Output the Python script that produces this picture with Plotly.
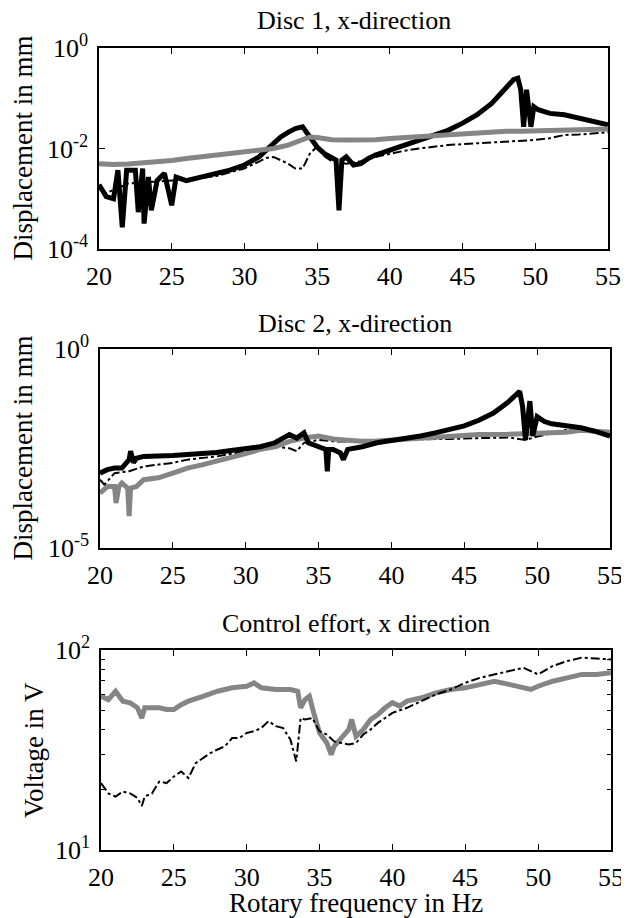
import plotly.graph_objects as go

# ---- Disc 1, x-direction ----
d1_black_hz = [20.0, 20.5, 21.0, 21.3, 21.6, 21.9, 22.5, 22.7, 23.0, 23.1, 23.4, 23.6,
               24.0, 24.5, 25.0, 25.3, 26.0, 27.0, 28.0, 29.0, 30.0, 31.0, 31.5, 32.0,
               32.5, 33.0, 33.5, 34.0, 34.3, 34.6, 35.0, 35.5, 36.0, 36.3, 36.5, 36.7,
               37.0, 37.5, 38.0, 38.5, 39.0, 40.0, 41.0, 42.0, 43.0, 44.0, 45.0, 46.0,
               47.0, 48.0, 48.5, 48.8, 49.0, 49.2, 49.4, 49.7, 49.9, 50.2, 51.0, 52.0,
               53.0, 54.0, 55.0]
d1_black = [1.9e-3, 1.1e-3, 1.0e-3, 3.7e-3, 2.7e-4, 3.7e-3, 3.7e-3, 5.4e-4, 4.0e-3, 3.2e-4,
            2.7e-3, 5.9e-4, 2.3e-3, 3.2e-3, 7.4e-4, 2.7e-3, 2.3e-3, 2.7e-3, 3.0e-3, 3.7e-3,
            4.7e-3, 6.8e-3, 9.3e-3, 1.26e-2, 1.7e-2, 2.1e-2, 2.5e-2, 2.7e-2, 2.0e-2, 1.5e-2,
            1.07e-2, 7.9e-3, 6.8e-3, 5.9e-3, 5.9e-4, 5.9e-3, 6.8e-3, 4.7e-3, 5.0e-3, 6.3e-3,
            7.4e-3, 9.3e-3, 1.17e-2, 1.48e-2, 1.86e-2, 2.3e-2, 3.2e-2, 4.7e-2, 7.9e-2, 0.158,
            0.234, 0.251, 0.148, 2.7e-2, 0.148, 2.7e-2, 6.8e-2, 5.9e-2, 5.0e-2, 4.7e-2,
            4.0e-2, 3.4e-2, 2.95e-2]

d1_gray_hz = [20, 21, 22, 23, 24, 25, 26, 27, 28, 29, 30, 31, 32, 33, 34, 34.5, 35, 36,
              37, 38, 39, 40, 41, 42, 43, 44, 45, 46, 47, 48, 49, 50, 51, 52, 53, 54, 55]
d1_gray = [5.0e-3, 4.8e-3, 4.9e-3, 5.1e-3, 5.4e-3, 5.8e-3, 6.3e-3, 6.8e-3, 7.4e-3, 8.0e-3,
           8.5e-3, 9.1e-3, 1.0e-2, 1.17e-2, 1.48e-2, 1.7e-2, 1.65e-2, 1.5e-2, 1.48e-2,
           1.48e-2, 1.5e-2, 1.58e-2, 1.65e-2, 1.78e-2, 1.85e-2, 1.95e-2, 2.0e-2, 2.1e-2,
           2.15e-2, 2.2e-2, 2.2e-2, 2.25e-2, 2.3e-2, 2.35e-2, 2.4e-2, 2.4e-2, 2.45e-2]

d1_dash_hz = [20, 20.5, 21, 22, 24, 26, 28, 30, 31, 31.5, 32, 32.5, 33, 33.5, 34, 34.5,
              35, 35.5, 36, 37, 38, 39, 40, 41, 42, 43, 44, 45, 46, 47, 48, 49, 50, 51,
              52, 53, 54, 55]
d1_dash = [1.6e-3, 1.3e-3, 1.5e-3, 2.0e-3, 2.2e-3, 2.4e-3, 2.8e-3, 4.0e-3, 5.5e-3, 6.5e-3,
           6.8e-3, 5.8e-3, 5.0e-3, 4.0e-3, 4.0e-3, 7.9e-3, 1.1e-2, 7.0e-3, 5.6e-3, 5.0e-3,
           5.6e-3, 6.8e-3, 7.9e-3, 9.0e-3, 1.0e-2, 1.1e-2, 1.17e-2, 1.22e-2, 1.26e-2, 1.3e-2,
           1.35e-2, 1.4e-2, 1.48e-2, 1.6e-2, 1.86e-2, 1.9e-2, 2.0e-2, 2.1e-2]

# ---- Disc 2, x-direction ----
d2_black_hz = [20, 20.5, 21, 21.5, 22, 22.1, 22.3, 22.5, 23, 24, 25, 26, 27, 28, 29, 30,
               31, 32, 32.5, 33, 33.5, 34, 34.3, 35, 35.5, 35.6, 35.7, 36, 36.5, 36.7,
               36.9, 37, 38, 39, 40, 41, 42, 43, 44, 45, 46, 47, 48, 48.5, 48.8, 49.0,
               49.2, 49.5, 49.7, 50, 50.5, 51, 52, 53, 54, 55]
d2_black = [7.6e-4, 9.3e-4, 1.02e-3, 1.02e-3, 1.66e-3, 2.7e-3, 1.4e-3, 1.8e-3, 2.0e-3, 2.0e-3,
            2.1e-3, 2.24e-3, 2.35e-3, 2.5e-3, 2.8e-3, 3.2e-3, 3.5e-3, 4.4e-3, 5.8e-3, 7.1e-3,
            5.8e-3, 7.8e-3, 4.4e-3, 3.5e-3, 3.0e-3, 8.5e-4, 3.0e-3, 3.0e-3, 2.45e-3, 1.66e-3,
            2.8e-3, 3.0e-3, 3.5e-3, 4.4e-3, 5.0e-3, 5.6e-3, 6.5e-3, 7.8e-3, 9.3e-3, 1.17e-2,
            1.62e-2, 2.45e-2, 4.6e-2, 7.1e-2, 8.7e-2, 3.6e-2, 5.2e-3, 4.9e-2, 6.5e-3, 2.0e-2,
            1.5e-2, 1.32e-2, 1.15e-2, 1.05e-2, 8.5e-3, 6.5e-3]

d2_gray_hz = [20, 20.5, 21, 21.1, 21.3, 21.5, 21.9, 22.0, 22.1, 22.5, 23, 24, 25, 26, 27,
              28, 29, 30, 31, 32, 33, 34, 35, 36, 37, 38, 39, 40, 42, 44, 46, 48, 50, 52,
              53, 54, 55]
d2_gray = [2.4e-4, 3.5e-4, 3.5e-4, 1.35e-4, 3.5e-4, 4.3e-4, 3.2e-4, 6.3e-5, 3.2e-4, 3.5e-4,
           5.2e-4, 5.8e-4, 7.6e-4, 1.02e-3, 1.23e-3, 1.5e-3, 1.8e-3, 2.35e-3, 3.0e-3, 3.5e-3,
           4.8e-3, 5.8e-3, 6.5e-3, 5.5e-3, 5.1e-3, 4.8e-3, 4.9e-3, 5.2e-3, 6.0e-3, 6.6e-3,
           7.1e-3, 7.2e-3, 7.4e-3, 8.1e-3, 9.1e-3, 8.5e-3, 8.1e-3]

d2_dash_hz = [20, 20.3, 21, 22, 23, 24, 25, 26, 28, 30, 32, 33, 33.5, 34, 35, 36, 38, 40,
              42, 44, 46, 48, 49.2, 50, 51, 52, 53, 54, 55]
d2_dash = [5.2e-4, 3.9e-4, 7.6e-4, 8.5e-4, 1.12e-3, 1.23e-3, 1.38e-3, 1.66e-3, 2.0e-3,
           2.7e-3, 3.5e-3, 3.2e-3, 2.7e-3, 4.4e-3, 5.2e-3, 4.8e-3, 4.6e-3, 5.0e-3, 5.4e-3,
           5.5e-3, 5.8e-3, 6.0e-3, 5.2e-3, 6.3e-3, 7.6e-3, 9.3e-3, 1.05e-2, 8.9e-3, 8.1e-3]

# ---- Control effort, x direction ----
ce_gray_hz = [20, 20.5, 21, 21.5, 22, 22.5, 22.8, 23, 23.5, 24, 24.5, 25, 25.5, 26, 27,
              28, 29, 30, 30.5, 31, 32, 33, 33.5, 33.7, 34, 34.3, 34.6, 35, 35.5, 35.8,
              36, 36.5, 37, 37.2, 37.5, 38, 38.5, 39, 39.5, 40, 40.5, 41, 42, 43, 44, 45,
              46, 47, 48, 49, 49.5, 50, 51, 52, 53, 54, 55]
ce_gray = [58.7, 56.5, 62.2, 55.5, 54.5, 51.4, 45.7, 51.4, 51.4, 51.4, 50.4, 50.4, 53.3,
           55.5, 58.7, 62.2, 64.7, 65.9, 68.5, 64.7, 63.5, 63.5, 62.2, 51.4, 56.5, 58.7,
           48.5, 38.5, 34.3, 30.0, 33.0, 36.3, 40.0, 44.9, 37.0, 40.0, 44.9, 47.5, 51.4,
           54.5, 52.4, 55.5, 57.7, 61.1, 63.5, 64.7, 67.3, 69.8, 67.3, 64.7, 63.5, 65.9,
           69.8, 72.6, 75.5, 75.5, 76.9]

ce_dash_hz = [20, 20.5, 21, 21.5, 22, 22.5, 22.8, 23, 23.5, 24, 24.5, 25, 25.5, 26, 26.5,
              27, 27.5, 28, 28.5, 29, 29.5, 30, 30.5, 31, 31.5, 32, 32.5, 33, 33.2, 33.4,
              33.7, 34, 34.5, 35, 35.5, 36, 36.5, 37, 37.5, 38, 38.5, 39, 39.5, 40, 41,
              42, 43, 44, 45, 46, 47, 48, 49, 50, 51, 52, 53, 54, 55]
ce_dash = [21.6, 19.2, 18.5, 19.6, 19.2, 18.2, 16.6, 18.5, 19.2, 22.0, 21.6, 23.3, 24.7,
           22.9, 27.2, 28.8, 30.5, 31.8, 33.0, 36.3, 36.3, 38.5, 39.3, 40.7, 44.1, 41.6,
           40.7, 35.6, 31.1, 27.7, 45.7, 44.9, 45.7, 39.3, 37.8, 34.9, 34.3, 33.7, 34.3,
           37.8, 40.0, 43.2, 45.7, 48.5, 51.4, 55.5, 60.0, 63.5, 68.5, 72.6, 75.5, 78.5,
           81.5, 75.5, 83.2, 88.1, 91.6, 90.6, 89.7]

x_ticks = [20, 25, 30, 35, 40, 45, 50, 55]

FONT = "Liberation Serif"
# the page body keeps its default 8px margin, so shrink the figure and shift coords
OFF = 8
W, H = 629 - OFF, 918 - OFF
GRAY = "#858585"

# panel boxes in window pixels: left, right, top, bottom
boxes = [(99, 608, 48, 249), (100, 610, 349, 548), (101, 611, 650, 850)]


def px(x):
    return (x - OFF) / W


def py(y):
    return 1 - (y - OFF) / H


fig = go.Figure()

black_line = dict(color="black", width=5)
gray_line = dict(color=GRAY, width=5)
dash_line = dict(color="black", width=2, dash="dashdot")

# panel 1
fig.add_trace(go.Scatter(x=d1_dash_hz, y=d1_dash, mode="lines", line=dash_line,
                         xaxis="x", yaxis="y"))
fig.add_trace(go.Scatter(x=d1_black_hz, y=d1_black, mode="lines", line=black_line,
                         xaxis="x", yaxis="y"))
fig.add_trace(go.Scatter(x=d1_gray_hz, y=d1_gray, mode="lines", line=gray_line,
                         xaxis="x", yaxis="y"))
# panel 2
fig.add_trace(go.Scatter(x=d2_dash_hz, y=d2_dash, mode="lines", line=dash_line,
                         xaxis="x2", yaxis="y2"))
fig.add_trace(go.Scatter(x=d2_gray_hz, y=d2_gray, mode="lines", line=gray_line,
                         xaxis="x2", yaxis="y2"))
fig.add_trace(go.Scatter(x=d2_black_hz, y=d2_black, mode="lines", line=black_line,
                         xaxis="x2", yaxis="y2"))
# panel 3
fig.add_trace(go.Scatter(x=ce_gray_hz, y=ce_gray, mode="lines", line=gray_line,
                         xaxis="x3", yaxis="y3"))
fig.add_trace(go.Scatter(x=ce_dash_hz, y=ce_dash, mode="lines", line=dash_line,
                         xaxis="x3", yaxis="y3"))

axis_common = dict(showline=True, linecolor="black", linewidth=1.5, mirror="ticks",
                   ticks="inside", ticklen=6, tickcolor="black", tickwidth=1,
                   showgrid=False, zeroline=False, automargin=False,
                   tickfont=dict(family=FONT, size=26, color="black"))

y_setups = [
    dict(range=[-4, 0], tickvals=[1e-4, 1e-2, 1], ticktext=["10<sup>-4</sup>", "10<sup>-2</sup>", "10<sup>0</sup>"]),
    dict(range=[-5, 0], tickvals=[1e-5, 1], ticktext=["10<sup>-5</sup>", "10<sup>0</sup>"]),
    dict(range=[1, 2], tickvals=[10, 100], ticktext=["10<sup>1</sup>", "10<sup>2</sup>"],
         minor=dict(tickvals=[20, 30, 40, 50, 60, 70, 80, 90], ticks="inside",
                    ticklen=4, tickcolor="black")),
]
y_titles = ["Displacement in mm", "Displacement in mm", "Voltage in V"]

for i, (left, right, top, bottom) in enumerate(boxes):
    sfx = "" if i == 0 else str(i + 1)
    fig.layout["xaxis" + sfx] = dict(axis_common, domain=[px(left), px(right)],
                                     range=[20, 55], tickvals=x_ticks,
                                     anchor="y" + sfx, ticklabelstandoff=3)
    fig.layout["yaxis" + sfx] = dict(axis_common, domain=[py(bottom), py(top)],
                                     type="log", anchor="x" + sfx,
                                     ticklabelstandoff=4, **y_setups[i])

titles = ["Disc 1, x-direction", "Disc 2, x-direction", "Control effort, x direction"]
title_y = [21, 323, 623]
ylab_x = [22, 22, 34]
for i, (left, right, top, bottom) in enumerate(boxes):
    fig.add_annotation(text=titles[i], x=px((left + right) / 2), y=py(title_y[i]),
                       xref="paper", yref="paper", showarrow=False,
                       xanchor="center", yanchor="middle",
                       font=dict(family=FONT, size=26, color="black"))
    fig.add_annotation(text=y_titles[i], x=px(ylab_x[i]), y=py((top + bottom) / 2),
                       xref="paper", yref="paper", showarrow=False, textangle=-90,
                       xanchor="center", yanchor="middle",
                       font=dict(family=FONT, size=27, color="black"))

fig.add_annotation(text="Rotary frequency in Hz", x=px((101 + 611) / 2), y=py(903),
                   xref="paper", yref="paper", showarrow=False,
                   xanchor="center", yanchor="middle",
                   font=dict(family=FONT, size=27, color="black"))

fig.update_layout(template="none", width=W, height=H, margin=dict(l=0, r=0, t=0, b=0),
                  paper_bgcolor="white", plot_bgcolor="white", showlegend=False,
                  font=dict(family=FONT, color="black"))

fig.write_html("out.html")
